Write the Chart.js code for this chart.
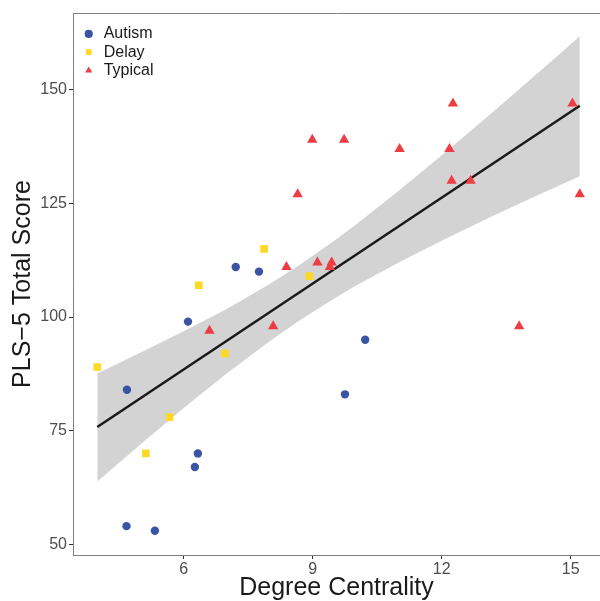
<!DOCTYPE html>
<html>
<head>
<meta charset="utf-8">
<script src="https://cdn.jsdelivr.net/npm/chart.js@4.4.1/dist/chart.umd.min.js"></script>
<style>
  body { margin: 0; background: #fff; }
</style>
</head>
<body>
<canvas id="scatterChart" width="600" height="601"></canvas>
<script>
// values
const autismX = [7.21, 7.75, 6.10, 4.68, 6.33, 6.26, 4.67, 5.33, 10.22, 9.75];
const autismY = [111, 110, 99, 84, 70, 67, 54, 53, 95, 83];
const delayX = [7.87, 6.35, 8.92, 3.99, 6.96, 5.67, 5.12];
const delayY = [115, 107, 109, 89, 92, 78, 70];
const typicalX = [8.65, 8.39, 12.26, 15.04, 8.99, 9.73, 11.02, 12.18, 12.23, 12.67, 15.21, 9.11, 9.44, 9.40, 6.60, 8.08, 13.80];
const typicalY = [127, 111, 147, 147, 139, 139, 137, 137, 130, 130, 127, 112, 112, 111, 97, 98, 98];

const fitX = [3.99, 15.21];
const fitY = [75.8, 146.5];

const bandX = [3.99, 5, 6, 7, 8, 8.7, 9.5, 10, 11, 12, 13, 14, 15.21];
const bandUpper = [87.6, 92.2, 96.9, 101.8, 107.3, 111.5, 116.8, 120.3, 127.8, 135.6, 143.6, 151.8, 161.8];
const bandLower = [63.8, 72.0, 80.0, 87.6, 94.7, 99.3, 104.1, 106.9, 112.0, 116.8, 121.4, 125.8, 131.0];

const xTicks = [6, 9, 12, 15];
const yTicks = [50, 75, 100, 125, 150];

const pts = (xs, ys) => xs.map((x, i) => ({x: x, y: ys[i]}));

const axisGrey = '#808080';
const fontFam = "'Liberation Sans', Arial, sans-serif";

// top border of the panel
const topBorder = {
  id: 'topBorder',
  beforeDatasetsDraw(chart) {
    const {ctx, chartArea} = chart;
    ctx.save();
    ctx.strokeStyle = axisGrey;
    ctx.lineWidth = 1;
    ctx.beginPath();
    ctx.moveTo(chartArea.left, chartArea.top + 0.5);
    ctx.lineTo(chartArea.right, chartArea.top + 0.5);
    ctx.stroke();
    ctx.restore();
  }
};

// nudge the in-panel legend
const legendShift = {
  id: 'legendShift',
  afterLayout(chart) {
    if (chart.legend) {
      chart.legend.left += 6.4;
      chart.legend.top += 23.6;
    }
  }
};

new Chart(document.getElementById('scatterChart'), {
  type: 'scatter',
  data: {
    datasets: [
      {
        label: 'Autism',
        data: pts(autismX, autismY),
        pointStyle: 'circle',
        pointRadius: 4.2,
        backgroundColor: '#3A54A4',
        borderWidth: 0
      },
      {
        label: 'Delay',
        data: pts(delayX, delayY),
        pointStyle: 'rect',
        pointRadius: 5.4,
        backgroundColor: '#FDD824',
        borderWidth: 0
      },
      {
        label: 'Typical',
        data: pts(typicalX, typicalY),
        pointStyle: 'triangle',
        pointRadius: 6,
        backgroundColor: '#EE3D42',
        borderWidth: 0
      },
      {
        label: 'fit',
        data: pts(fitX, fitY),
        showLine: true,
        pointRadius: 0,
        borderColor: '#1A1A1A',
        borderWidth: 2.5,
        fill: false
      },
      {
        label: 'upper',
        data: pts(bandX, bandUpper),
        showLine: true,
        pointRadius: 0,
        borderWidth: 0,
        borderColor: 'rgba(0,0,0,0)',
        backgroundColor: '#D3D3D3',
        fill: '+1'
      },
      {
        label: 'lower',
        data: pts(bandX, bandLower),
        showLine: true,
        pointRadius: 0,
        borderWidth: 0,
        borderColor: 'rgba(0,0,0,0)',
        fill: false
      }
    ]
  },
  options: {
    responsive: false,
    animation: false,
    layout: { autoPadding: false, padding: { top: 13, right: 0, left: 0, bottom: 0 } },
    plugins: {
      tooltip: { enabled: false },
      legend: {
        display: true,
        position: 'chartArea',
        align: 'start',
        labels: {
          usePointStyle: true,
          boxWidth: 14,
          boxHeight: 5.8,
          padding: 2.3,
          color: '#1A1A1A',
          font: { family: fontFam, size: 16 },
          filter: item => item.datasetIndex < 3
        }
      }
    },
    scales: {
      x: {
        type: 'linear',
        min: 3.426,
        max: 15.68,
        afterBuildTicks: s => { s.ticks = xTicks.map(v => ({value: v})); },
        afterFit: s => { s.height = 46; s.paddingLeft = 0; s.paddingRight = 0; },
        grid: { drawOnChartArea: false, tickLength: 4, tickColor: '#333333' },
        border: { color: axisGrey, width: 1 },
        ticks: { color: '#4D4D4D', padding: 1, font: { family: fontFam, size: 16 } },
        title: {
          display: true,
          text: 'Degree Centrality',
          color: '#1A1A1A',
          padding: 0,
          font: { family: fontFam, size: 25, lineHeight: 1.04 }
        }
      },
      y: {
        type: 'linear',
        min: 47.65,
        max: 166.9,
        afterBuildTicks: s => { s.ticks = yTicks.map(v => ({value: v})); },
        afterFit: s => { s.width = 73; s.paddingTop = 0; s.paddingBottom = 0; },
        grid: { drawOnChartArea: false, tickLength: 4, tickColor: '#333333' },
        border: { color: axisGrey, width: 1 },
        ticks: { color: '#4D4D4D', padding: 2, font: { family: fontFam, size: 16 } },
        title: {
          display: true,
          text: 'PLS\u22125 Total Score',
          color: '#1A1A1A',
          padding: { top: 10, bottom: 0 },
          font: { family: fontFam, size: 25, lineHeight: 1.04 }
        }
      }
    }
  },
  plugins: [topBorder, legendShift]
});
</script>
</body>
</html>
